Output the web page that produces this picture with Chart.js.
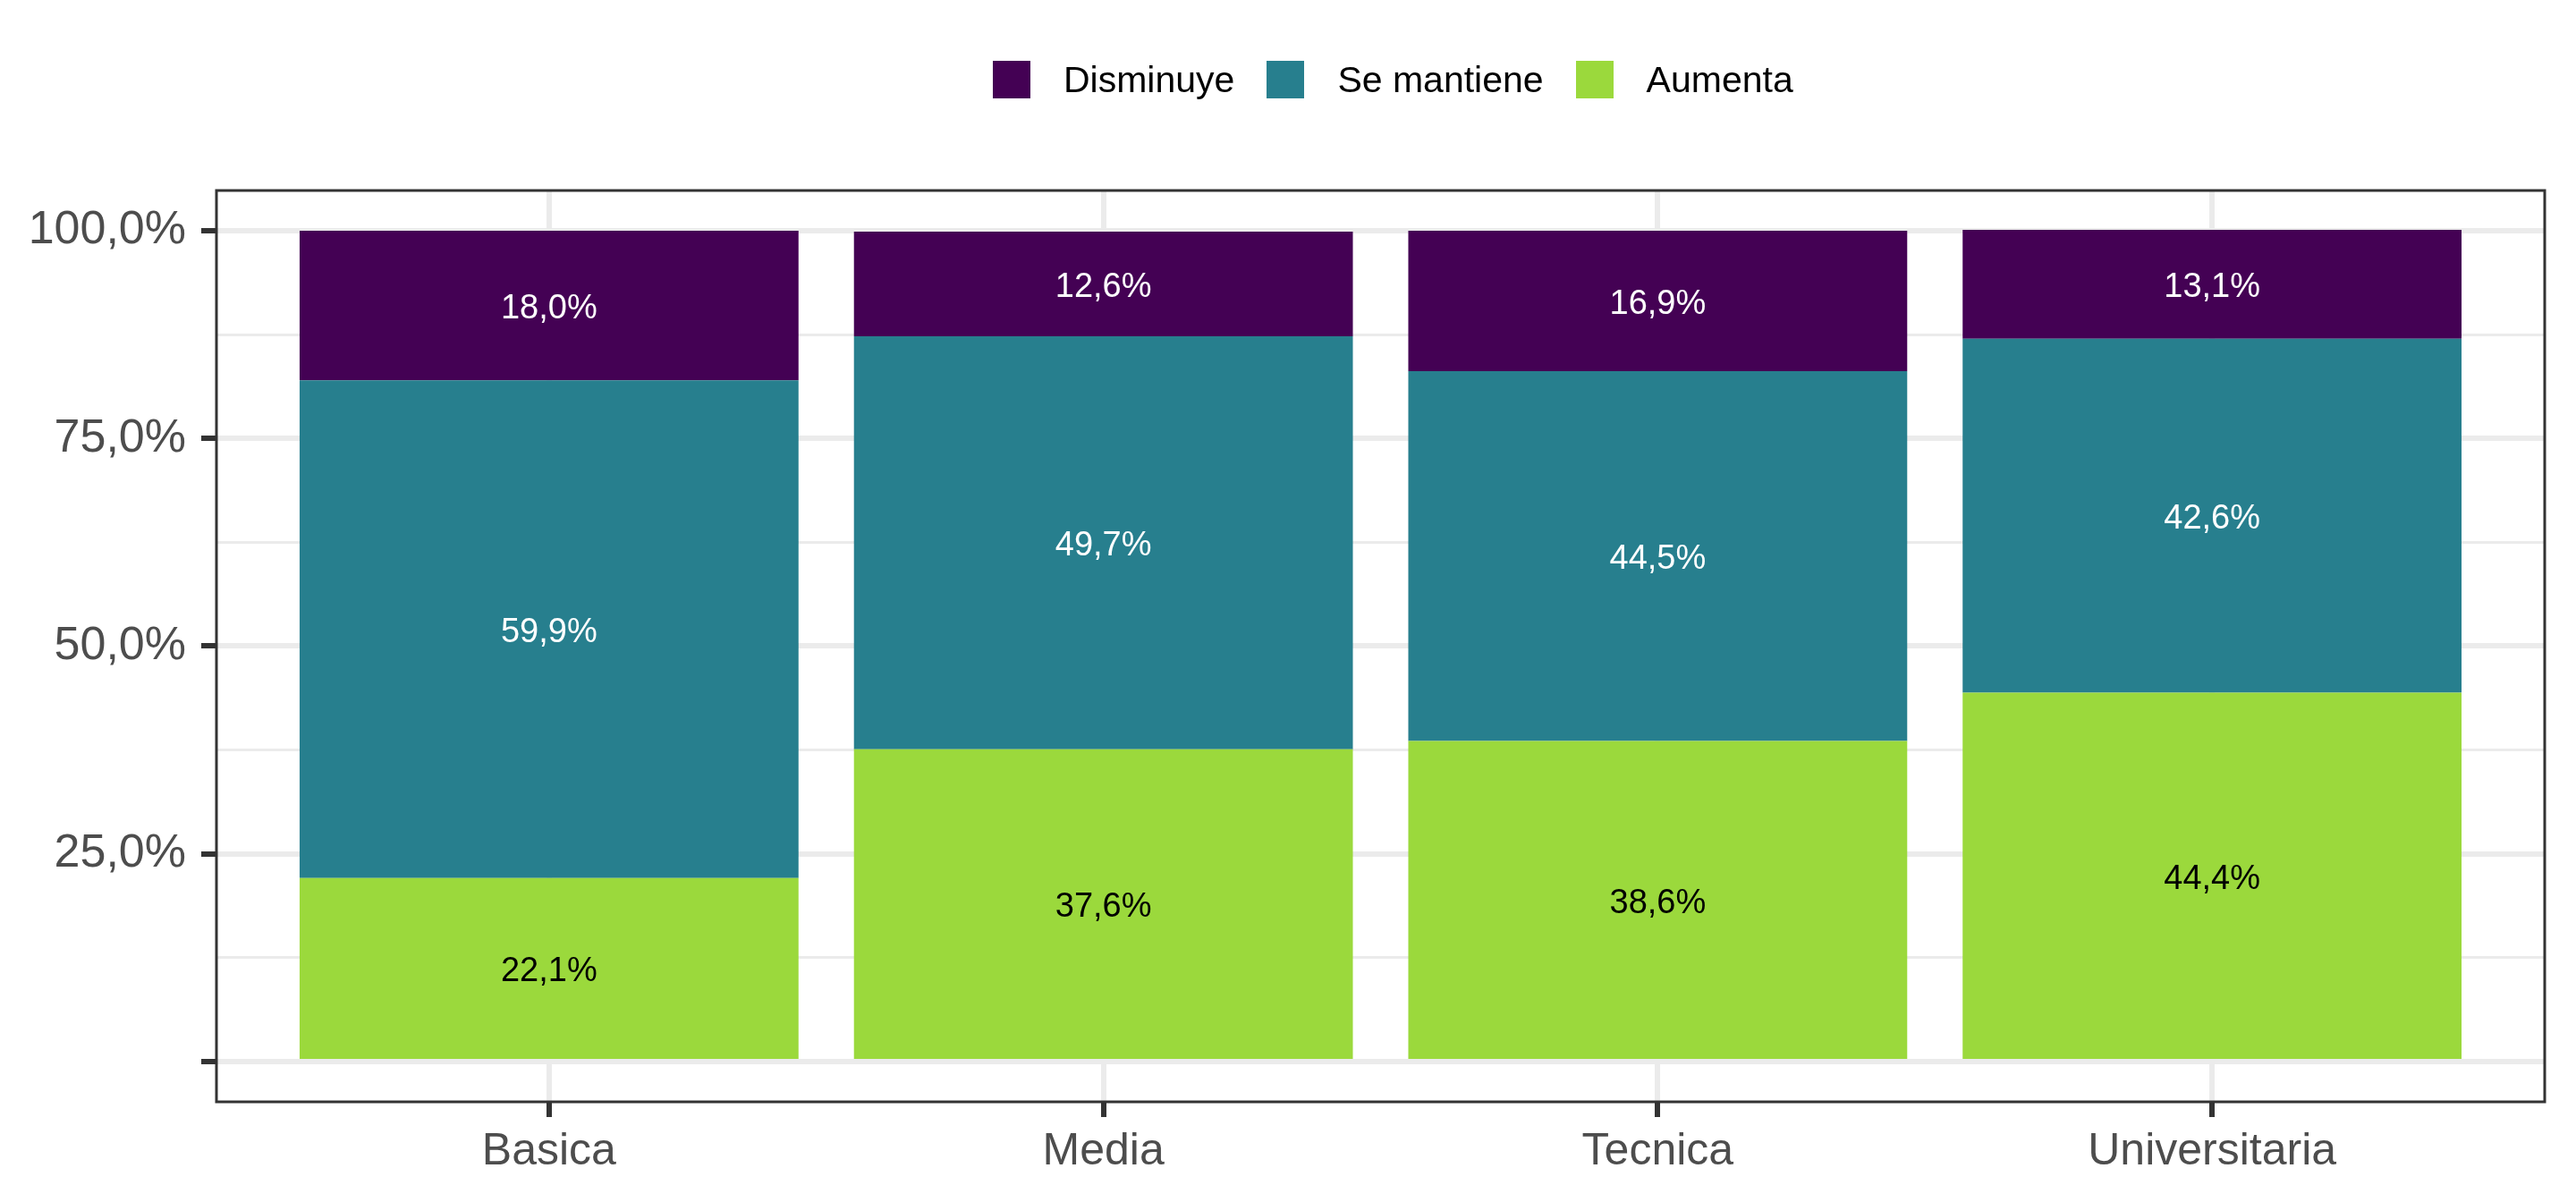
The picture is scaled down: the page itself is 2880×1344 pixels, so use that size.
<!DOCTYPE html>
<html lang="es">
<head>
    <meta charset="UTF-8">
    <title>Disminuye / Se mantiene / Aumenta por nivel educativo</title>
    <script src="https://cdn.jsdelivr.net/npm/chart.js"></script>
    <style>
        body {
            margin: 0;
            background: #ffffff;
            font-family: "Liberation Sans", Arial, sans-serif;
        }
        .wrap {
            position: relative;
            width: 2880px;
            height: 1344px;
        }
        canvas {
            position: absolute;
            left: 0;
            top: 0;
        }
        .legend {
            position: absolute;
            left: 1110px;
            top: 68px;
            display: flex;
            align-items: center;
            font-size: 41px;
            color: #000000;
        }
        .legend .key {
            width: 42px;
            height: 42px;
            margin-right: 37px;
        }
        .legend .item {
            display: flex;
            align-items: center;
            margin-right: 36px;
            line-height: 42px;
        }
    </style>
</head>
<body>
    <div class="wrap">
        <canvas id="chart" width="2880" height="1344"></canvas>
        <div class="legend" id="legend"></div>
    </div>

    <script>
        // data
        const categories = ['Basica', 'Media', 'Tecnica', 'Universitaria'];
        const aumenta = [22.1, 37.6, 38.6, 44.4];
        const seMantiene = [59.9, 49.7, 44.5, 42.6];
        const disminuye = [18.0, 12.6, 16.9, 13.1];

        const yMajorTicks = [0, 25, 50, 75, 100];
        const yMinorTicks = [12.5, 37.5, 62.5, 87.5];
        const yTickLabels = ['', '25,0%', '50,0%', '75,0%', '100,0%'];

        // legend order (top) vs stacking order (bottom first)
        const legendNames = ['Disminuye', 'Se mantiene', 'Aumenta'];
        const colors = { 'Disminuye': '#440154', 'Se mantiene': '#277F8E', 'Aumenta': '#9BD93C' };
        const labelColors = { 'Disminuye': '#ffffff', 'Se mantiene': '#ffffff', 'Aumenta': '#000000' };

        const FONT = '"Liberation Sans", Arial, sans-serif';

        function toPoints(values) {
            return values.map((v, i) => ({ x: i, y: v }));
        }

        function fmtPct(v) {
            return v.toFixed(1).replace('.', ',') + '%';
        }

        // html legend
        const legendEl = document.getElementById('legend');
        legendNames.forEach(name => {
            let item = document.createElement('div');
            item.className = 'item';
            item.innerHTML = `<div class="key" style="background:${colors[name]}"></div><span>${name}</span>`;
            legendEl.appendChild(item);
        });

        const segmentLabels = {
            id: 'segmentLabels',
            afterDatasetsDraw(chart) {
                const ctx = chart.ctx;
                ctx.save();
                ctx.font = '38px ' + FONT;
                ctx.textAlign = 'center';
                ctx.textBaseline = 'middle';
                chart.data.datasets.forEach((ds, di) => {
                    const meta = chart.getDatasetMeta(di);
                    meta.data.forEach((bar, i) => {
                        const c = bar.getCenterPoint();
                        ctx.fillStyle = labelColors[ds.label];
                        // small nudge so the digits sit centred like ggplot text
                        ctx.fillText(fmtPct(ds.data[i].y), c.x, c.y + 4);
                    });
                });
                ctx.restore();
            }
        };

        const panelBorder = {
            id: 'panelBorder',
            afterDraw(chart) {
                const a = chart.chartArea;
                const ctx = chart.ctx;
                ctx.save();
                ctx.strokeStyle = '#333333';
                ctx.lineWidth = 3;
                ctx.strokeRect(a.left, a.top, a.right - a.left, a.bottom - a.top);
                ctx.restore();
            }
        };

        function isMajorY(v) {
            return yMajorTicks.indexOf(v) !== -1;
        }

        new Chart(document.getElementById('chart'), {
            type: 'bar',
            data: {
                datasets: [
                    { label: 'Aumenta', data: toPoints(aumenta), backgroundColor: colors['Aumenta'] },
                    { label: 'Se mantiene', data: toPoints(seMantiene), backgroundColor: colors['Se mantiene'] },
                    { label: 'Disminuye', data: toPoints(disminuye), backgroundColor: colors['Disminuye'] }
                ]
            },
            options: {
                responsive: false,
                animation: false,
                borderWidth: 0,
                categoryPercentage: 1.0,
                barPercentage: 0.9,
                layout: { padding: { top: 213, right: 35, left: 0, bottom: 0 } },
                plugins: {
                    legend: { display: false },
                    tooltip: { enabled: false }
                },
                scales: {
                    x: {
                        type: 'linear',
                        stacked: true,
                        offset: false,
                        min: -0.6,
                        max: 3.6,
                        afterBuildTicks: scale => {
                            scale.ticks = categories.map((c, i) => ({ value: i }));
                        },
                        afterFit: scale => { scale.height = 112; },
                        border: { display: false },
                        grid: {
                            offset: false,
                            color: '#EBEBEB',
                            lineWidth: 6,
                            tickColor: '#333333',
                            tickWidth: 6,
                            tickLength: 17
                        },
                        ticks: {
                            font: { family: FONT, size: 50 },
                            color: '#4D4D4D',
                            padding: 9,
                            maxRotation: 0,
                            autoSkip: false,
                            callback: v => categories[v]
                        }
                    },
                    y: {
                        stacked: true,
                        min: -4.85,
                        max: 104.85,
                        afterBuildTicks: scale => {
                            scale.ticks = yMajorTicks.concat(yMinorTicks)
                                .sort((a, b) => a - b)
                                .map(v => ({ value: v }));
                        },
                        afterFit: scale => { scale.width = 242; },
                        border: { display: false },
                        grid: {
                            color: '#EBEBEB',
                            lineWidth: ctx => isMajorY(ctx.tick.value) ? 6 : 3,
                            tickColor: ctx => isMajorY(ctx.tick.value) ? '#333333' : 'rgba(0,0,0,0)',
                            tickWidth: 6,
                            tickLength: 17
                        },
                        ticks: {
                            font: { family: FONT, size: 52 },
                            color: '#4D4D4D',
                            padding: 17,
                            autoSkip: false,
                            callback: v => {
                                const idx = yMajorTicks.indexOf(v);
                                return idx === -1 ? '' : yTickLabels[idx];
                            }
                        }
                    }
                }
            },
            plugins: [segmentLabels, panelBorder]
        });
    </script>
</body>
</html>
